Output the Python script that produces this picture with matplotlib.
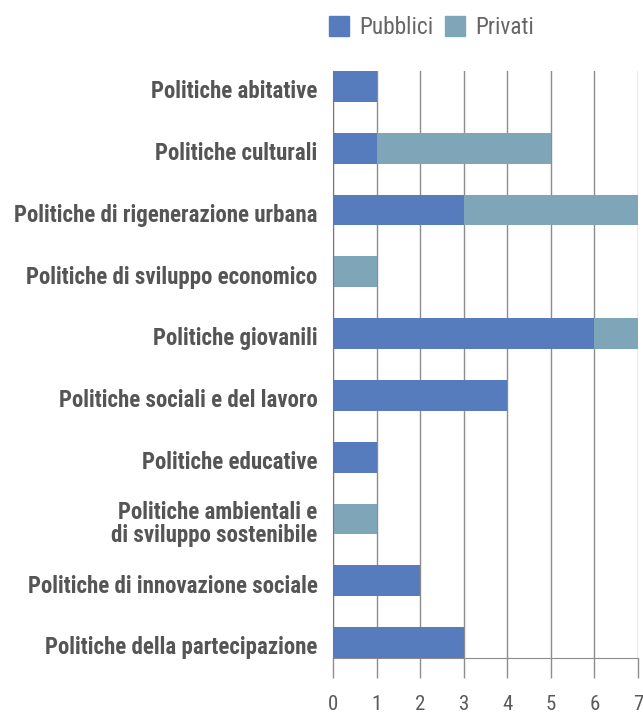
import matplotlib
matplotlib.use("Agg")
import matplotlib.pyplot as plt
from matplotlib import font_manager
from matplotlib import transforms
from matplotlib.patches import Rectangle

categories = [
    "Politiche abitative",
    "Politiche culturali",
    "Politiche di rigenerazione urbana",
    "Politiche di sviluppo economico",
    "Politiche giovanili",
    "Politiche sociali e del lavoro",
    "Politiche educative",
    "Politiche ambientali e\ndi sviluppo sostenibile",
    "Politiche di innovazione sociale",
    "Politiche della partecipazione",
]
pubblici = [1, 1, 3, 0, 6, 4, 1, 0, 2, 3]
privati = [0, 4, 4, 1, 1, 0, 0, 1, 0, 0]
x_ticks = [0, 1, 2, 3, 4, 5, 6, 7]
series_names = ["Pubblici", "Privati"]

C_PUB = "#567CBE"
C_PRI = "#7FA5B9"
GRID = "#8c8c8c"

names = {f.name for f in font_manager.fontManager.ttflist}
label_family = None
for cand in ["Roboto Condensed", "Liberation Sans Narrow", "Arial Narrow"]:
    if cand in names:
        label_family = cand
        break
label_size = 16.5
if label_family is None:
    label_family = "Roboto"
    label_size = 13
num_family = label_family

fig = plt.figure(figsize=(6.43, 7.19), dpi=100)
ax = fig.add_axes([333 / 643, (719 - 658) / 719, 305 / 643, 587 / 719])

y = list(range(len(categories)))
ax.barh(y, pubblici, height=0.5, color=C_PUB, zorder=3)
ax.barh(y, privati, left=pubblici, height=0.5, color=C_PRI, zorder=3)

ax.set_xlim(0, 7)
ax.set_ylim(len(categories) - 0.75, -0.25)
ax.set_xticks(x_ticks)
ax.set_xticklabels([str(t) for t in x_ticks], family=num_family, fontsize=15, color="#5a5a5a")
ax.set_yticks(y)
ax.set_yticklabels(categories, family=label_family, fontweight="bold",
                   fontsize=label_size, color="#555555", linespacing=1.0)
ax.tick_params(axis="y", length=0, pad=11)
ax.tick_params(axis="x", length=14.4, width=1, color=GRID, pad=12)
shift = transforms.ScaledTranslation(0, -2 / 72, fig.dpi_scale_trans)
for t in ax.get_yticklabels():
    t.set_multialignment("right")
    t.set_transform(t.get_transform() + shift)

ax.grid(axis="x", color=GRID, linewidth=1, zorder=1)
for side in ["top", "right"]:
    ax.spines[side].set_visible(False)
ax.spines["left"].set_color("#777777")
ax.spines["bottom"].set_color(GRID)
ax.spines["left"].set_zorder(4)

# legend row above the plot
for name, color, x0 in [(series_names[0], C_PUB, 329), (series_names[1], C_PRI, 445)]:
    fig.patches.append(Rectangle((x0 / 643, 1 - 36 / 719), 20 / 643, 20 / 719,
                                 transform=fig.transFigure, color=color))
    fig.text((x0 + 30) / 643, 1 - 27 / 719, name, family=num_family, fontsize=16.8,
             color="#666666", va="center", ha="left")

fig.savefig("out.png", dpi=100)
